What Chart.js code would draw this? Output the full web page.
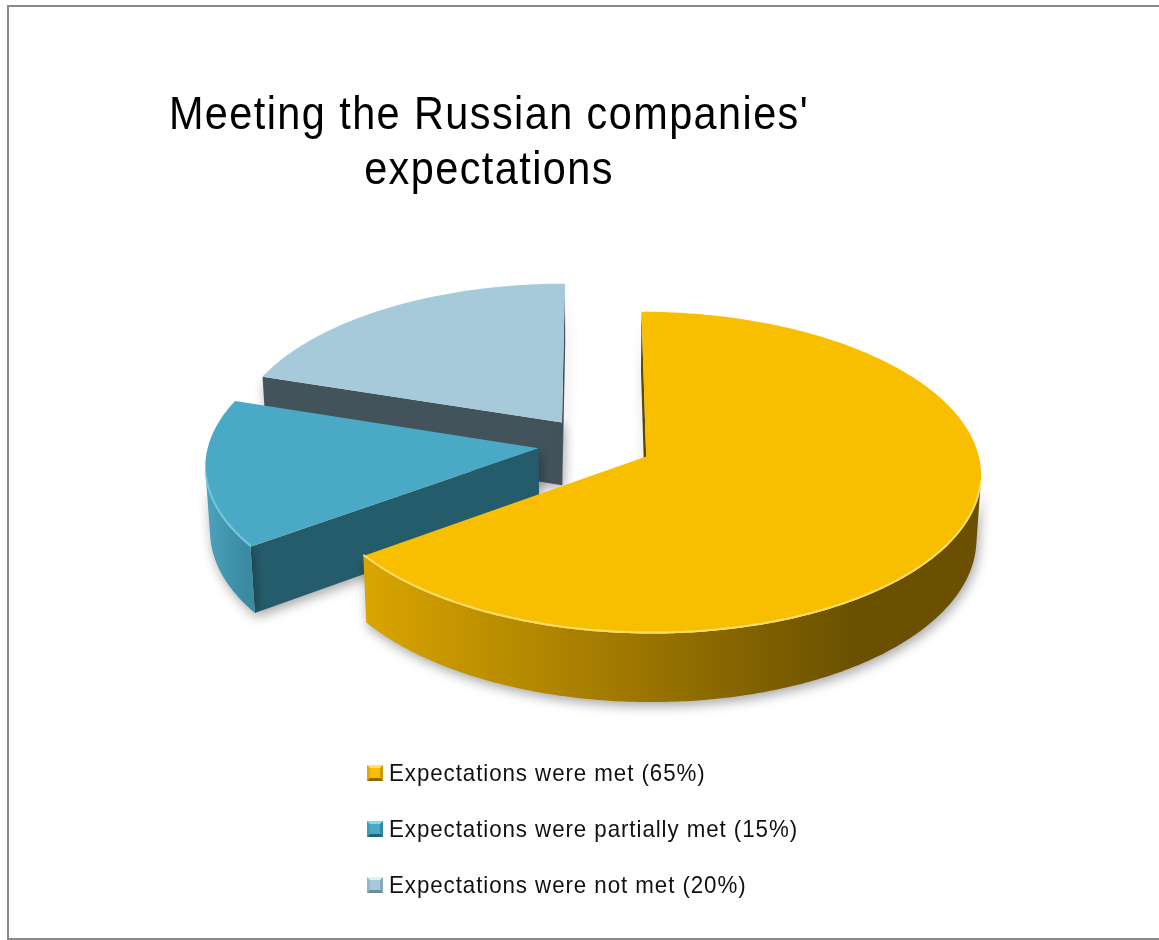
<!DOCTYPE html>
<html>
<head>
<meta charset="utf-8">
<title>Meeting the Russian companies' expectations</title>
<script src="https://cdn.jsdelivr.net/npm/chart.js@4.4.0/dist/chart.umd.min.js"></script>
<style>
    body { margin: 0; background: #fff; }
    #wrap { position: relative; width: 1159px; height: 940px; overflow: hidden; }
    #frame {
        position: absolute; left: 7px; top: 5px; width: 1170px; height: 935px;
        border: 2px solid #898989; box-sizing: border-box;
    }
    #chart { position: absolute; left: 0; top: 0; }
    #title {
        position: absolute; left: 0; top: 86px; width: 978px; text-align: center;
        font-family: 'Liberation Sans', Arial, sans-serif;
        font-size: 46px; line-height: 55px; letter-spacing: 1.6px; color: #000;
        transform: scaleX(0.9); transform-origin: 489px 0;
    }
    #legend {
        position: absolute; left: 367px; top: 745px;
        font-family: 'Liberation Sans', Arial, sans-serif;
        font-size: 24px; letter-spacing: 1px; color: #111;
    }
    .item { display: flex; align-items: center; height: 56px; white-space: nowrap; }
    .box { width: 16px; height: 16px; box-sizing: border-box; border: 3px solid; margin-right: 6px; }
    .label { display: inline-block; transform: scaleX(0.93); transform-origin: 0 50%; }
</style>
</head>
<body>
<div id="wrap">
    <div id="frame"></div>
    <canvas id="chart" width="1159" height="940"></canvas>
    <div id="title">Meeting the Russian companies'<br>expectations</div>
    <div id="legend"></div>
</div>
<script>
// 数据
const labels = [
    'Expectations were met (65%)',
    'Expectations were partially met (15%)',
    'Expectations were not met (20%)'
];
const shares = [65, 15, 20];
const topColors = ['#F8BE00', '#4AAAC5', '#A6CADA'];

// 侧面着色：外壁渐变(亮→暗)、切面、顶面边缘高光
const wallColors = [['#DAA500', '#6A5000'], ['#4CA2BC', '#3A8BA2'], ['#8FB3C2', '#7E9FAD']];
const cutColors = ['#5E4700', '#255C6B', '#43535C'];
const rimColors = ['rgba(255,228,130,0.8)', 'rgba(122,205,228,0.8)', 'rgba(196,223,234,0.8)'];
// 图例小方块的斜面颜色 [上, 右, 下, 左]
const bevelColors = [
    ['#FFE270', '#C99A00', '#8C6A00', '#E0AA00'],
    ['#8ED7EA', '#2E8AA3', '#1F6376', '#3F9DB7'],
    ['#E2EFF5', '#87A9B8', '#6C8C9A', '#95B7C6']
];

const DEPTH = 73;                  // 饼的厚度
const TILT = Math.asin(0.475);     // 俯视角
const CAM = 2900;                  // 相机距离（透视）

// 3D 饼图插件：读取 Chart.js 计算出的扇区角度和半径，自己画立体效果
const pie3d = {
    id: 'pie3d',
    beforeDatasetsDraw(chart) {
        const ctx = chart.ctx;
        const arcs = chart.getDatasetMeta(0).data;
        const cx = arcs[0].x, cy = arcs[0].y;
        const sinT = Math.sin(TILT), cosT = Math.cos(TILT);
        const camY = CAM * cosT;

        const proj = (X, Y, Z) => {
            const s = CAM / (CAM - (Y * cosT + Z * sinT));
            return [cx + X * s, cy + (Y * sinT - Z * cosT) * s];
        };
        const facing = (px, py, nx, ny) => (-px) * nx + (camY - py) * ny > 0;

        const slices = arcs.map((arc, i) => {
            const mid = (arc.startAngle + arc.endAngle) / 2;
            const off = arc.options.offset || 0;
            return {
                i, s: arc.startAngle, e: arc.endAngle, r: arc.outerRadius,
                ox: Math.cos(mid) * off, oy: Math.sin(mid) * off
            };
        });
        // 从后往前画
        slices.sort((a, b) => a.oy - b.oy);

        const fillPoly = (pts, style) => {
            ctx.beginPath();
            pts.forEach((p, k) => k ? ctx.lineTo(p[0], p[1]) : ctx.moveTo(p[0], p[1]));
            ctx.closePath();
            ctx.fillStyle = style;
            ctx.fill();
        };

        slices.forEach(sl => {
            const rim = (a, z) => proj(sl.ox + sl.r * Math.cos(a), sl.oy + sl.r * Math.sin(a), z);
            const steps = Math.max(12, Math.ceil((sl.e - sl.s) / 0.01));
            const angles = [];
            for (let k = 0; k <= steps; k++) angles.push(sl.s + (sl.e - sl.s) * k / steps);

            ctx.save();
            ctx.shadowColor = 'rgba(0,0,0,0.35)';
            ctx.shadowBlur = 12;
            ctx.shadowOffsetX = 2;
            ctx.shadowOffsetY = 4;

            // 两个切面
            [[sl.s, sl.s - Math.PI / 2], [sl.e, sl.e + Math.PI / 2]].forEach(([a, na]) => {
                if (!facing(sl.ox, sl.oy, Math.cos(na), Math.sin(na))) return;
                fillPoly([
                    proj(sl.ox, sl.oy, 0), rim(a, 0), rim(a, -DEPTH), proj(sl.ox, sl.oy, -DEPTH)
                ], cutColors[sl.i]);
            });

            // 外壁：只画朝向相机的部分
            const runs = [];
            let run = [];
            angles.forEach(a => {
                const px = sl.ox + sl.r * Math.cos(a), py = sl.oy + sl.r * Math.sin(a);
                if (facing(px, py, Math.cos(a), Math.sin(a))) run.push(a);
                else if (run.length) { runs.push(run); run = []; }
            });
            if (run.length) runs.push(run);

            runs.forEach(rn => {
                const pts = rn.map(a => rim(a, 0)).concat(rn.slice().reverse().map(a => rim(a, -DEPTH)));
                const xs = pts.map(p => p[0]);
                const x0 = Math.min(...xs), x1 = Math.max(...xs);
                const g = ctx.createLinearGradient(x0, 0, x1, 0);
                g.addColorStop(0, wallColors[sl.i][0]);
                g.addColorStop(0.8, wallColors[sl.i][1]);
                g.addColorStop(1, wallColors[sl.i][1]);
                fillPoly(pts, g);
            });
            ctx.restore();

            // 顶面
            fillPoly([proj(sl.ox, sl.oy, 0)].concat(angles.map(a => rim(a, 0))), topColors[sl.i]);

            // 顶面前沿高光
            ctx.save();
            ctx.strokeStyle = rimColors[sl.i];
            ctx.lineWidth = 2;
            runs.forEach(rn => {
                ctx.beginPath();
                rn.forEach((a, k) => {
                    const p = rim(a, 0);
                    k ? ctx.lineTo(p[0], p[1] - 1) : ctx.moveTo(p[0], p[1] - 1);
                });
                ctx.stroke();
            });
            ctx.restore();
        });
        return false;
    }
};

new Chart(document.getElementById('chart'), {
    type: 'pie',
    data: {
        labels: labels,
        datasets: [{
            data: shares,
            backgroundColor: topColors,
            borderWidth: 0,
            offset: 57
        }]
    },
    options: {
        responsive: false,
        animation: false,
        events: [],
        radius: 330,
        layout: { padding: { left: 31, right: 0, top: 0, bottom: 52 } },
        plugins: {
            legend: { display: false },
            tooltip: { enabled: false },
            title: { display: false }
        }
    },
    plugins: [pie3d]
});

// 图例
const legendEl = document.getElementById('legend');
labels.forEach((label, i) => {
    const item = document.createElement('div');
    item.className = 'item';
    const box = document.createElement('span');
    box.className = 'box';
    box.style.background = topColors[i];
    box.style.borderColor = bevelColors[i].join(' ');
    const text = document.createElement('span');
    text.className = 'label';
    text.textContent = label;
    item.appendChild(box);
    item.appendChild(text);
    legendEl.appendChild(item);
});
</script>
</body>
</html>
